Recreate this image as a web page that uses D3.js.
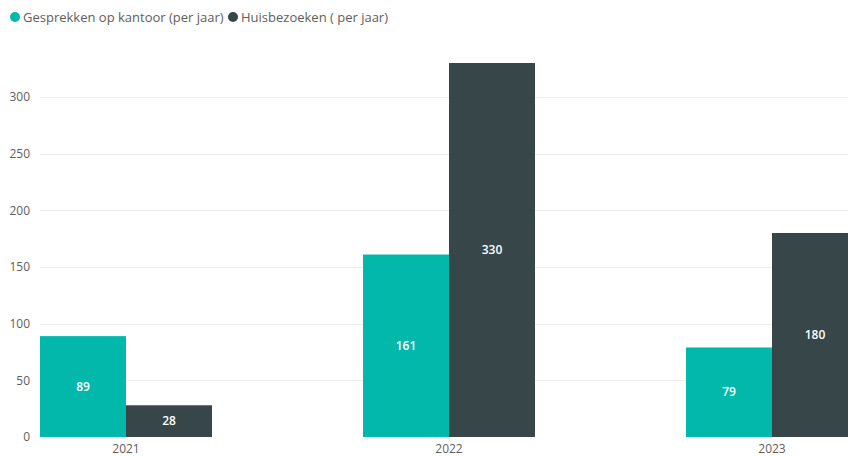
<!DOCTYPE html>
<html>
<head>
<meta charset="utf-8">
<script src="https://cdn.jsdelivr.net/npm/d3@7"></script>
<style>
  body { margin: 0; background: #fff; }
  svg { display: block; font-family: "Segoe UI", "Open Sans", "DejaVu Sans", sans-serif; }
</style>
</head>
<body>
<div id="chart"></div>
<script>
var years = ["2021", "2022", "2023"];
var seriesNames = ["Gesprekken op kantoor (per jaar)", "Huisbezoeken ( per jaar)"];
var kantoor = [89, 161, 79];
var huisbezoek = [28, 330, 180];
var yTicks = [0, 50, 100, 150, 200, 250, 300];
var colors = ["#01B8AA", "#374649"];

var W = 848, H = 456;
var svg = d3.select("#chart").append("svg")
  .attr("width", W)
  .attr("height", H);

// y: 0 at 437, 300 at 97
var y = d3.scaleLinear().domain([0, 300]).range([437, 97]);

// bands step 323, groups 172 wide, last one runs off the right edge
var x0 = d3.scaleBand().domain(years).range([40, 858])
  .paddingInner(151 / 323).paddingOuter(0);
var x1 = d3.scaleBand().domain([0, 1]).range([0, x0.bandwidth()]);

// gridlines
svg.append("g").selectAll("line")
  .data(yTicks.filter(function(d) { return d > 0; }))
  .enter().append("line")
  .attr("x1", 40).attr("x2", W)
  .attr("y1", function(d) { return Math.round(y(d)) + 0.5; })
  .attr("y2", function(d) { return Math.round(y(d)) + 0.5; })
  .attr("stroke", "#EDEDED").attr("stroke-width", 1);

// y tick labels
svg.append("g").selectAll("text")
  .data(yTicks)
  .enter().append("text")
  .attr("x", 30)
  .attr("y", function(d) { return y(d); })
  .attr("dy", "0.35em")
  .attr("text-anchor", "end")
  .attr("fill", "#605E5C")
  .style("font-size", "12px")
  .text(function(d) { return d; });

// bars
var rows = years.map(function(yr, i) {
  return { year: yr, values: [kantoor[i], huisbezoek[i]] };
});

var groups = svg.append("g").selectAll("g")
  .data(rows)
  .enter().append("g")
  .attr("transform", function(d) { return "translate(" + x0(d.year) + ",0)"; });

groups.selectAll("rect")
  .data(function(d) { return d.values.map(function(v, k) { return { k: k, v: v }; }); })
  .enter().append("rect")
  .attr("x", function(d) { return x1(d.k); })
  .attr("width", x1.bandwidth())
  .attr("y", function(d) { return y(d.v); })
  .attr("height", function(d) { return y(0) - y(d.v); })
  .attr("fill", function(d) { return colors[d.k]; });

groups.selectAll("text")
  .data(function(d) { return d.values.map(function(v, k) { return { k: k, v: v }; }); })
  .enter().append("text")
  .attr("x", function(d) { return x1(d.k) + x1.bandwidth() / 2; })
  .attr("y", function(d) { return (y(d.v) + y(0)) / 2; })
  .attr("dy", "0.35em")
  .attr("text-anchor", "middle")
  .attr("fill", "#fff")
  .style("font-size", "12px")
  .style("font-weight", "600")
  .text(function(d) { return d.v; });

// x axis labels
svg.append("g").selectAll("text")
  .data(years)
  .enter().append("text")
  .attr("x", function(d) { return x0(d) + x0.bandwidth() / 2; })
  .attr("y", 449)
  .attr("dy", "0.35em")
  .attr("text-anchor", "middle")
  .attr("fill", "#605E5C")
  .style("font-size", "12px")
  .text(function(d) { return d; });

// legend
var legX = [15, 233];
var leg = svg.append("g").selectAll("g")
  .data(seriesNames)
  .enter().append("g")
  .attr("transform", function(d, i) { return "translate(" + legX[i] + ",17)"; });
leg.append("circle").attr("r", 5).attr("fill", function(d, i) { return colors[i]; });
leg.append("text")
  .attr("x", 8)
  .attr("dy", "0.35em")
  .attr("fill", "#605E5C")
  .style("font-size", "13px")
  .text(function(d) { return d; });
</script>
</body>
</html>
